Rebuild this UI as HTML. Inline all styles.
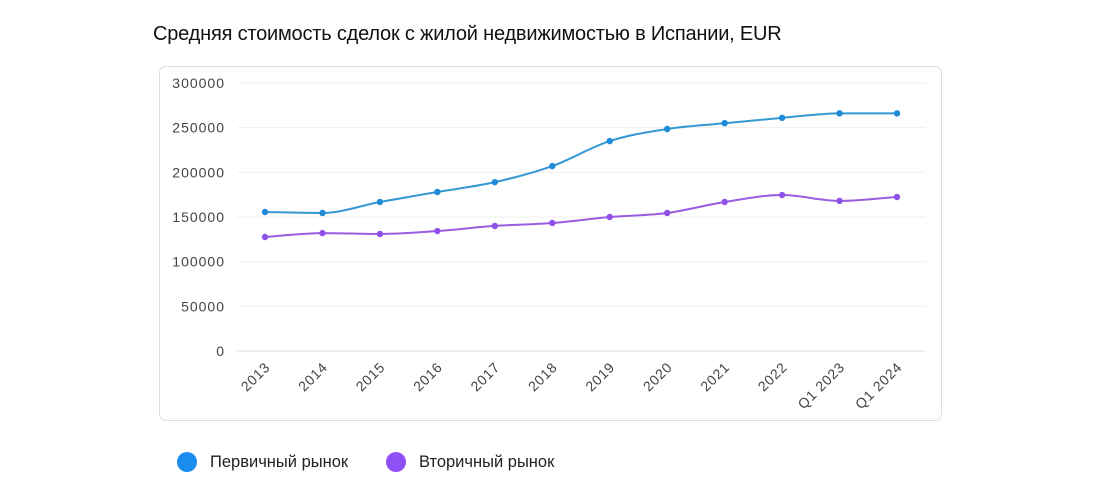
<!DOCTYPE html>
<html><head><meta charset="utf-8"><style>
body{margin:0;width:1100px;height:500px;background:#fff;font-family:"Liberation Sans",sans-serif;overflow:hidden;position:relative}
#title{position:absolute;left:153px;top:23px;font-size:20px;color:#111;letter-spacing:-0.2px}
#card{position:absolute;left:159px;top:66px;width:783px;height:355px;border:1.5px solid #dedede;border-radius:7px;box-sizing:border-box}
svg{position:absolute;left:0;top:0}
.leg{position:absolute;top:452px;font-size:16.5px;color:#222;display:flex;align-items:center}
.dot{width:20px;height:20px;border-radius:50%;margin-right:13px}
</style></head><body>
<div id="title">Средняя стоимость сделок с жилой недвижимостью в Испании, EUR</div>
<div id="card"></div>
<svg id="chart" width="1100" height="500"></svg>
<div class="leg" style="left:177px"><div class="dot" style="background:#1a8cf0"></div>Первичный рынок</div>
<div class="leg" style="left:386px"><div class="dot" style="background:#8f50f5"></div>Вторичный рынок</div>
<script>
const categories=["2013","2014","2015","2016","2017","2018","2019","2020","2021","2022","Q1 2023","Q1 2024"];
const primaryValues=[155600,154500,166800,178000,189000,207000,235000,248500,255000,261000,266000,266000];
const secondaryValues=[127600,132000,131000,134300,140000,143300,150000,154500,166800,174600,168000,172400];
const yTicks=[0,50000,100000,150000,200000,250000,300000];
const NS="http://www.w3.org/2000/svg";
const svg=document.getElementById('chart');
const x0=265,x1=897,y0=351,y1=83,yMax=300000;
const xs=i=>x0+(x1-x0)*i/(categories.length-1);
const ys=v=>y0-(y0-y1)*v/yMax;
function mk(t,a,p){const e=document.createElementNS(NS,t);for(const k in a)e.setAttribute(k,a[k]);(p||svg).appendChild(e);return e;}
yTicks.forEach(v=>{
 const l=mk('line',{x1:237,x2:925,y1:ys(v),y2:ys(v),stroke:v===0?'#d8d8d8':'#efefef','stroke-width':1});
 
 
 const t=mk('text',{x:225,y:ys(v)+5,'text-anchor':'end','font-size':14,'letter-spacing':1,fill:'#444'});
 t.textContent=v;
 
 
});
categories.forEach((c,i)=>{
 const t=mk('text',{x:xs(i)+6,y:368,'text-anchor':'end','font-size':14,'letter-spacing':0.8,fill:'#444',transform:`rotate(-45 ${xs(i)+6} 368)`});
 t.textContent=c;
 
 
});
function monotone(pts){
 const n=pts.length,d=[],m=[];
 for(let i=0;i<n-1;i++)d.push((pts[i+1][1]-pts[i][1])/(pts[i+1][0]-pts[i][0]));
 m[0]=d[0];m[n-1]=d[n-2];
 for(let i=1;i<n-1;i++)m[i]=d[i-1]*d[i]<=0?0:(d[i-1]+d[i])/2;
 for(let i=0;i<n-1;i++){if(d[i]===0){m[i]=0;m[i+1]=0;continue;}const a=m[i]/d[i],b=m[i+1]/d[i],s=a*a+b*b;if(s>9){const t=3/Math.sqrt(s);m[i]=t*a*d[i];m[i+1]=t*b*d[i];}}
 let p=`M${pts[0][0]},${pts[0][1]}`;
 for(let i=0;i<n-1;i++){const h=(pts[i+1][0]-pts[i][0])/3;p+=`C${pts[i][0]+h},${pts[i][1]+m[i]*h} ${pts[i+1][0]-h},${pts[i+1][1]-m[i+1]*h} ${pts[i+1][0]},${pts[i+1][1]}`;}
 return p;
}
function series(vals,line,dot,name){
 const pts=vals.map((v,i)=>[xs(i),ys(v)]);
 const p=mk('path',{d:monotone(pts),fill:'none',stroke:line,'stroke-width':2});
 
 
 pts.forEach(q=>{const c=mk('circle',{cx:q[0],cy:q[1],r:3.2,fill:dot});
 
 });
}
series(primaryValues,'#3498d2','#1f8ad8','primary');
series(secondaryValues,'#9a5ce0','#8f50e8','secondary');
</script>
</body></html>
